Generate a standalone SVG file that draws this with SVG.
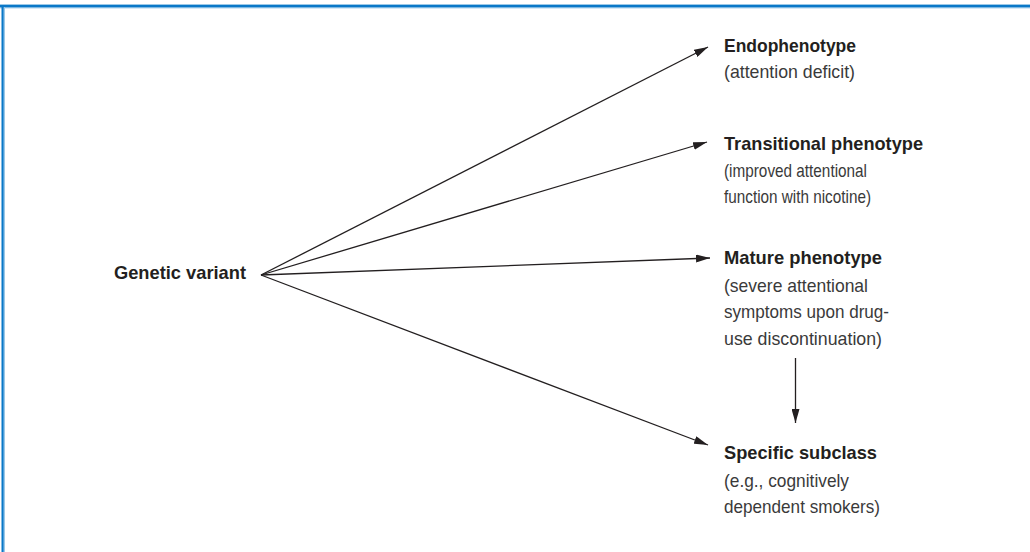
<svg xmlns="http://www.w3.org/2000/svg" width="1030" height="552" viewBox="0 0 1030 552">
<style>
.t{font-family:"Liberation Sans",Arial,sans-serif;font-size:19px;fill:#231f20}
.b{font-weight:bold}
.r{fill:#3a3a3a}
.c{stroke:#231f20;stroke-width:1.3;fill:none;marker-end:url(#ah)}
</style>
<defs>
<marker id="ah" viewBox="0 0 14 8" refX="14" refY="4" markerWidth="14" markerHeight="8" markerUnits="userSpaceOnUse" orient="auto">
<path d="M0,0 L14,4 L0,8 Z" fill="#231f20"/>
</marker>
</defs>
<rect width="1030" height="552" fill="#fff"/>
<g id="frame">
<rect x="0" y="4" width="1030" height="1.2" fill="#9cc9e8"/>
<rect x="0" y="5" width="1030" height="2.6" fill="#0a78c8"/>
<rect x="0" y="7.6" width="1030" height="0.8" fill="#9cc9e8"/>
<rect x="1.5" y="5" width="2.3" height="547" fill="#0a78c8"/>
<rect x="3.8" y="7" width="1.2" height="545" fill="#9cc9e8"/>
</g>
<g id="connectors">
<line class="c" x1="261" y1="275" x2="708" y2="47"/>
<line class="c" x1="261" y1="275" x2="707" y2="142"/>
<line class="c" x1="261" y1="275" x2="710" y2="258"/>
<line class="c" x1="261" y1="275" x2="708" y2="445"/>
<line class="c" x1="795.5" y1="358" x2="795.5" y2="423"/>
</g>
<g id="genetic">
<text class="t b" x="114" y="279" textLength="132" lengthAdjust="spacingAndGlyphs">Genetic variant</text>
</g>
<g id="endo">
<text class="t b" x="724" y="52" textLength="132" lengthAdjust="spacingAndGlyphs">Endophenotype</text>
<text class="t r" x="724" y="78" textLength="131" lengthAdjust="spacingAndGlyphs">(attention deficit)</text>
</g>
<g id="transitional">
<text class="t b" x="724" y="150" textLength="199" lengthAdjust="spacingAndGlyphs">Transitional phenotype</text>
<text class="t r" x="724" y="177" textLength="143" lengthAdjust="spacingAndGlyphs">(improved attentional</text>
<text class="t r" x="724" y="203" textLength="147" lengthAdjust="spacingAndGlyphs">function with nicotine)</text>
</g>
<g id="mature">
<text class="t b" x="724" y="264" textLength="158" lengthAdjust="spacingAndGlyphs">Mature phenotype</text>
<text class="t r" x="724" y="292" textLength="144" lengthAdjust="spacingAndGlyphs">(severe attentional</text>
<text class="t r" x="724" y="318" textLength="165" lengthAdjust="spacingAndGlyphs">symptoms upon drug-</text>
<text class="t r" x="724" y="345" textLength="158" lengthAdjust="spacingAndGlyphs">use discontinuation)</text>
</g>
<g id="subclass">
<text class="t b" x="724" y="459" textLength="153" lengthAdjust="spacingAndGlyphs">Specific subclass</text>
<text class="t r" x="724" y="487" textLength="125" lengthAdjust="spacingAndGlyphs">(e.g., cognitively</text>
<text class="t r" x="724" y="513" textLength="156" lengthAdjust="spacingAndGlyphs">dependent smokers)</text>
</g>
</svg>
